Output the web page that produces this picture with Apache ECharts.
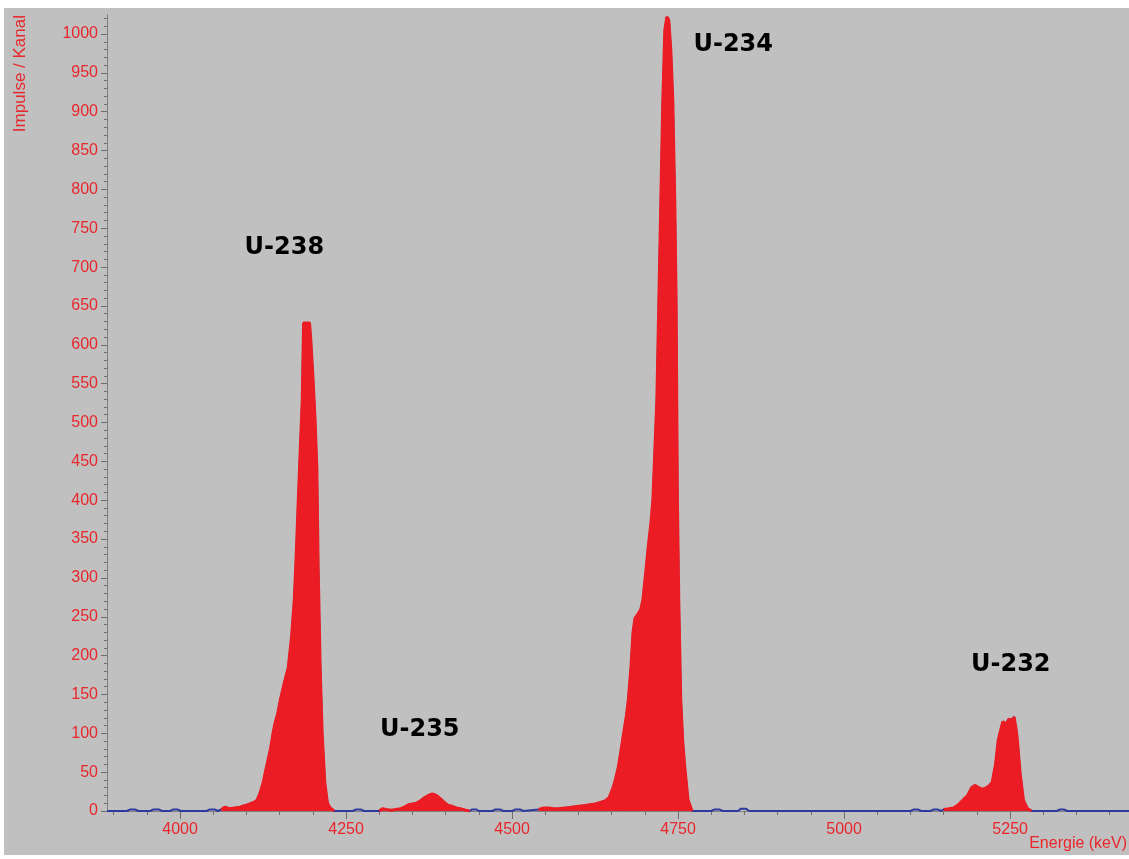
<!DOCTYPE html>
<html>
<head>
<meta charset="utf-8">
<script src="https://cdn.jsdelivr.net/npm/echarts@6/dist/echarts.min.js"></script>
<style>
  html, body { margin: 0; padding: 0; background: #ffffff; }
  #chart { position: absolute; left: 4px; top: 8px; width: 1125px; height: 847px; background: #c0c0c0; }
</style>
</head>
<body>
<div id="chart"></div>
<script>
// Spectrum: energy (keV) and counts per channel
const energies = [
  3890, 3920, 3925, 3932, 3937, 3955, 3960, 3968, 3973, 3985, 3990, 3996, 4001, 4040, 4045, 4052, 4057,
  4062, 4068, 4074, 4082, 4090, 4098, 4105, 4111, 4116, 4120, 4125, 4131, 4136, 4140, 4143, 4147, 4151,
  4157, 4163, 4168, 4172, 4175, 4178, 4181, 4184, 4186, 4195, 4197, 4200, 4203, 4206, 4208, 4211, 4214,
  4218, 4222, 4226, 4232, 4260, 4265, 4272, 4277, 4300,
  4305, 4310, 4318, 4325, 4332, 4338, 4344, 4350, 4356, 4362, 4368, 4374, 4380, 4386, 4392, 4398, 4404,
  4410, 4416, 4422, 4430, 4436, 4440, 4446, 4450, 4470, 4475, 4482, 4487, 4500, 4505, 4512, 4517,
  4540, 4548, 4555, 4562, 4570, 4580, 4590, 4600, 4610, 4617, 4625, 4633, 4640, 4646, 4652, 4656, 4660,
  4664, 4668, 4672, 4675, 4679, 4682, 4685, 4690, 4694, 4697, 4701, 4705, 4709, 4712, 4715, 4718, 4721,
  4724, 4727, 4730, 4733, 4736, 4739, 4742, 4745, 4747, 4748, 4749, 4751, 4754, 4757, 4760, 4765, 4771,
  4800, 4805, 4812, 4817, 4840, 4845, 4852, 4857, 5100, 5105, 5111, 5116, 5130, 5135, 5141, 5146,
  5150, 5158, 5165, 5172, 5179, 5186, 5192, 5197, 5203, 5208, 5212, 5218, 5223, 5228, 5232, 5236, 5239,
  5244, 5248, 5253, 5256, 5259, 5261, 5265, 5270, 5276, 5282, 5320, 5325, 5331, 5336, 5429
];
const counts = [
  0, 0, 2, 2, 0, 0, 2, 2, 0, 0, 2, 2, 0, 0, 2, 2, 0,
  2, 5, 3, 4, 5, 7, 9, 11, 14, 22, 36, 60, 79, 100, 113, 125, 143,
  165, 185, 225, 272, 330, 400, 465, 529, 628, 628, 605, 560, 510, 443, 314, 185, 100,
  36, 10, 4, 0, 0, 2, 2, 0, 0,
  3, 2, 1, 2, 3, 5, 8, 9, 10, 13, 17, 20, 22, 20, 16, 11, 7,
  6, 4, 3, 1, 0, 2, 2, 0, 0, 2, 2, 0, 0, 2, 2, 0,
  2, 4, 4, 3, 3, 4, 5, 6, 7, 8, 9, 11, 13, 17, 30, 42, 57,
  78, 100, 122, 143, 185, 229, 248, 254, 260, 272, 305, 340, 370, 400, 465, 529, 658,
  786, 915, 1005, 1022, 1018, 980, 915, 786, 658, 529, 400, 272, 143, 90, 57, 14, 0,
  0, 2, 2, 0, 0, 3, 3, 0, 0, 2, 2, 0, 0, 2, 2, 0,
  2, 3, 4, 8, 14, 20, 30, 33, 30, 28, 29, 32, 37, 60, 91, 105, 115,
  112, 118, 117, 121, 105, 91, 49, 14, 3, 0, 0, 2, 2, 0, 0
];
// Regions of interest (filled red), in keV
const roiStart = [4060, 4300, 4540, 5148];
const roiEnd   = [4232, 4436, 4771, 5282];
// Peak labels and their anchor (keV, counts)
const peakNames  = ['U-238', 'U-235', 'U-234', 'U-232'];
const peakLabelE = [4157, 4361, 4833, 5251];
const peakLabelV = [725, 104, 986, 188];
// Axis ticks
const xLabelTicks = [4000, 4250, 4500, 4750, 5000, 5250];
const xMinorTicks = [3900, 3950, 4000, 4050, 4100, 4150, 4200, 4250, 4300, 4350, 4400, 4450, 4500, 4550,
  4600, 4650, 4700, 4750, 4800, 4850, 4900, 4950, 5000, 5050, 5100, 5150, 5200, 5250, 5300, 5350, 5400];
const yLabelTicks = [0, 50, 100, 150, 200, 250, 300, 350, 400, 450, 500, 550, 600, 650, 700, 750, 800,
  850, 900, 950, 1000];
const yMinorTicks = [];
for (let v = 0; v <= 1020; v += 10) yMinorTicks.push(v);

const X_MIN = 3890, X_MAX = 5429, Y_MIN = 0, Y_MAX = 1025;
const RED = '#e8262b';
const FILL = '#ec1c24';
const BLUE = '#2b3a9c';
const plain = v => String(v);

const spectrum = energies.map((e, i) => [e, counts[i]]);
const roiSeries = roiStart.map((s, k) => ({
  type: 'line',
  data: spectrum.filter(p => p[0] >= s && p[0] <= roiEnd[k]),
  symbol: 'none',
  lineStyle: { color: FILL, width: 3 },
  areaStyle: { color: FILL, opacity: 1 },
  z: 3,
  silent: true
}));

const chart = echarts.init(document.getElementById('chart'), null, { renderer: 'canvas' });
chart.setOption({
  animation: false,
  backgroundColor: '#c0c0c0',
  grid: { left: 103, right: 0, top: 6.6, bottom: 44, containLabel: false },
  xAxis: [
    {
      type: 'value', min: X_MIN, max: X_MAX, position: 'bottom',
      axisLine: { show: true, onZero: false, lineStyle: { color: '#808080', width: 1 } },
      axisTick: { show: true, customValues: xMinorTicks, length: 4, lineStyle: { color: '#6f6f6f' } },
      axisLabel: { show: false },
      splitLine: { show: false }
    },
    {
      type: 'value', min: X_MIN, max: X_MAX, position: 'bottom',
      axisLine: { show: false, onZero: false },
      axisTick: { show: true, customValues: xLabelTicks, length: 8, lineStyle: { color: '#6f6f6f' } },
      axisLabel: { show: true, customValues: xLabelTicks, formatter: plain, color: RED, fontSize: 16,
        fontFamily: 'Liberation Sans, Arial, sans-serif', margin: 11 },
      splitLine: { show: false }
    }
  ],
  yAxis: [
    {
      type: 'value', min: Y_MIN, max: Y_MAX, position: 'left',
      axisLine: { show: true, onZero: false, lineStyle: { color: '#808080', width: 1 } },
      axisTick: { show: true, customValues: yMinorTicks, length: 3, lineStyle: { color: '#6f6f6f' } },
      axisLabel: { show: false },
      splitLine: { show: false }
    },
    {
      type: 'value', min: Y_MIN, max: Y_MAX, position: 'left',
      axisLine: { show: false, onZero: false },
      axisTick: { show: true, customValues: yLabelTicks, length: 6, lineStyle: { color: '#6f6f6f' } },
      axisLabel: { show: true, customValues: yLabelTicks, formatter: plain, color: RED, fontSize: 16,
        fontFamily: 'Liberation Sans, Arial, sans-serif', margin: 9 },
      splitLine: { show: false }
    }
  ],
  series: [
    {
      type: 'line',
      data: spectrum,
      symbol: 'none',
      lineStyle: { color: BLUE, width: 2 },
      z: 2,
      silent: true,
      markPoint: {
        symbol: 'circle',
        symbolSize: 0,
        silent: true,
        label: {
          show: true, position: 'inside', color: '#000000', fontSize: 24, fontWeight: 'bold',
          fontFamily: 'DejaVu Sans, sans-serif',
          formatter: p => p.name
        },
        data: peakNames.map((n, i) => ({ name: n, coord: [peakLabelE[i], peakLabelV[i]] }))
      }
    }
  ].concat(roiSeries),
  graphic: [
    {
      type: 'text', x: 16, y: 7, rotation: Math.PI / 2, silent: true,
      style: { text: 'Impulse / Kanal', fill: RED, fontSize: 17,
        fontFamily: 'Liberation Sans, Arial, sans-serif', textAlign: 'right', textVerticalAlign: 'middle' }
    },
    {
      type: 'text', right: 2, bottom: 3, silent: true,
      style: { text: 'Energie (keV)', fill: RED, fontSize: 16,
        fontFamily: 'Liberation Sans, Arial, sans-serif' }
    }
  ]
});
</script>
</body>
</html>
